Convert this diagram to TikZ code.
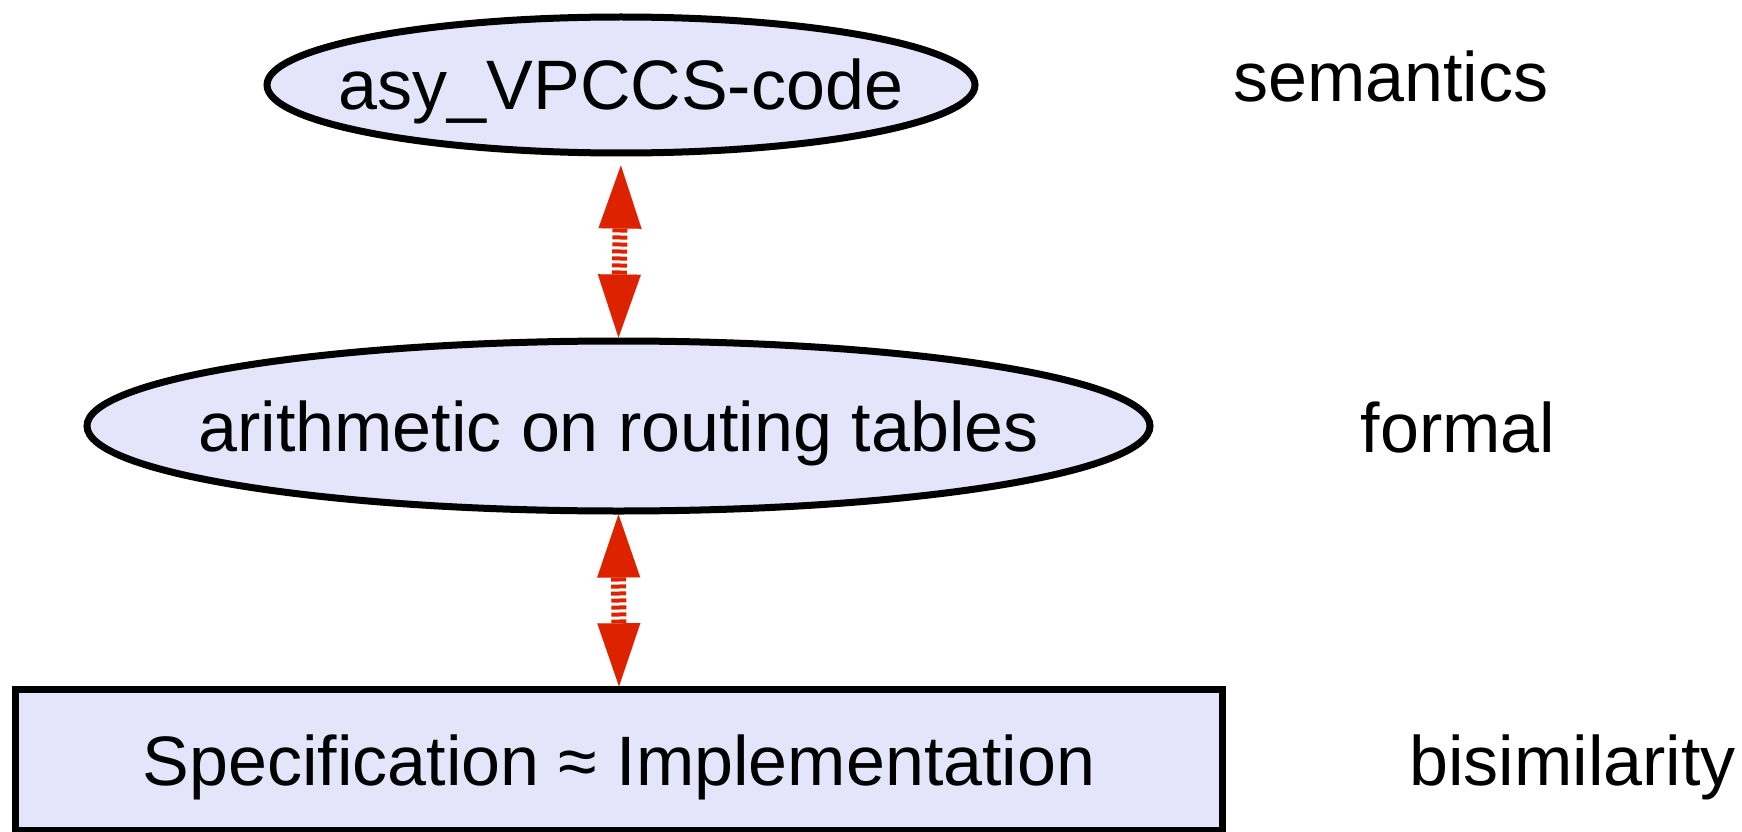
\documentclass[tikz,border=0pt]{standalone}
\usepackage{fontspec}
\setmainfont{Liberation Sans}
\usetikzlibrary{shapes.geometric,arrows.meta}
\definecolor{lav}{RGB}{228,228,250}
\definecolor{arrred}{RGB}{221,34,0}
\begin{document}
\begin{tikzpicture}[x=1pt,y=-1pt,
  every node/.style={font=\fontsize{70pt}{84pt}\selectfont},
  ell/.style={ellipse, draw=black, fill=lav, line width=7pt, inner sep=0pt, text height=50pt, text depth=0pt},
  boxnode/.style={rectangle, draw=black, fill=lav, line width=7pt, inner sep=0pt, text height=50pt, text depth=0pt},
  lbl/.style={anchor=base, inner sep=0pt},
  biarrow/.style={draw=arrred, line width=15pt, dash pattern=on 4pt off 3pt,
    {Triangle[length=63pt,width=43pt,line width=0.01pt]}-{Triangle[length=63pt,width=43pt,line width=0.01pt]}}
]
\useasboundingbox (0,0) rectangle (1742,832);
\node[ell, minimum width=708pt, minimum height=136pt] (sem) at (621,85) {\makebox[0pt]{asy\_VPCCS-code}};
\node[ell, minimum width=1063pt, minimum height=170pt] (form) at (618.5,426) {\makebox[0pt]{arithmetic on routing tables}};
\node[boxnode, minimum width=1207.5pt, minimum height=140.5pt] (bis) at (619,760) {Specification ≈ Implementation};
\node[lbl] (lsem) at (1391,102) {semantics};
\node[lbl] (lform) at (1458,452) {formal};
\node[lbl] (lbis) at (1572.5,785) {bisimilarity};
\draw[biarrow, shorten <=9pt] (sem.south) -- (form.north);
\draw[biarrow] (form.south) -- (bis.north);
\end{tikzpicture}
\end{document}
